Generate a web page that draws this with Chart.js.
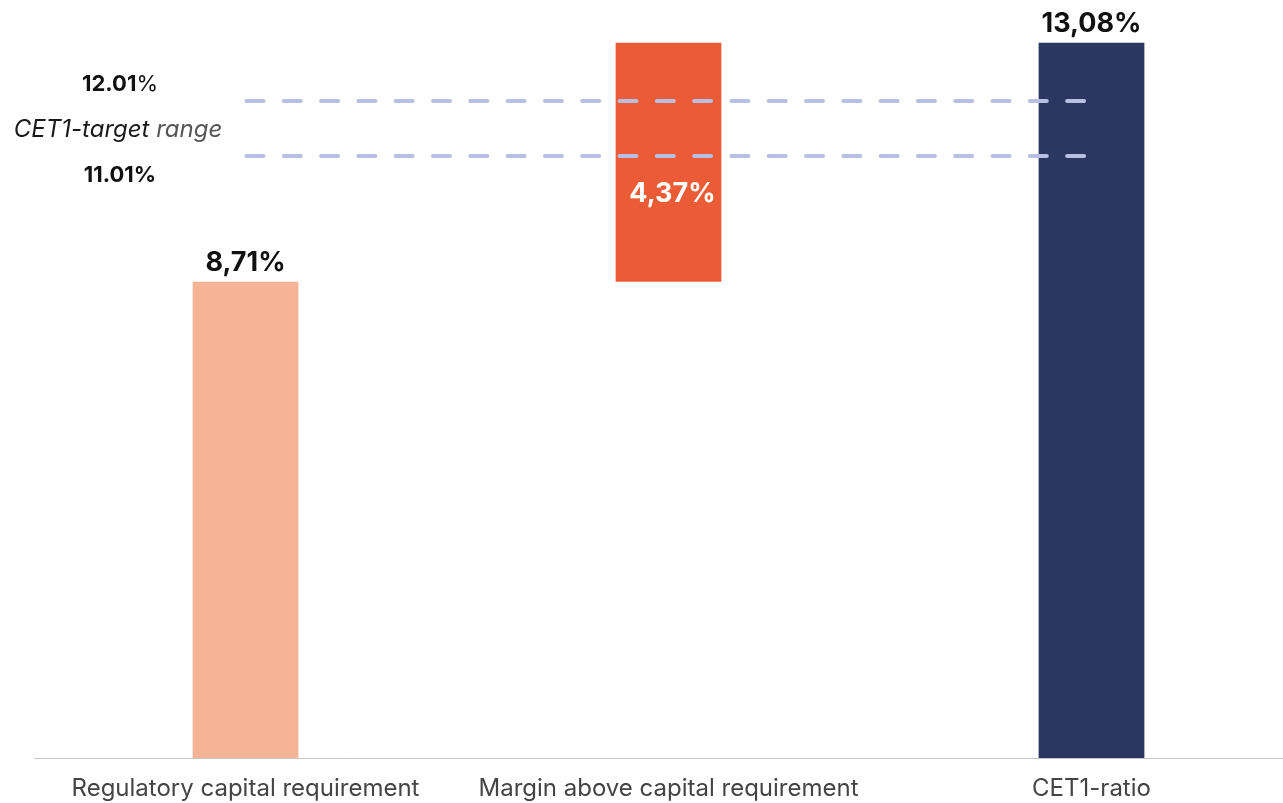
<!DOCTYPE html>
<html>
<head>
<meta charset="utf-8">
<script src="https://cdn.jsdelivr.net/npm/chart.js@4.4.1/dist/chart.umd.min.js"></script>
<style>
  html, body { margin: 0; padding: 0; background: #fff; overflow: hidden; }
  canvas { display: block; }
</style>
</head>
<body>
<canvas id="my-chart" width="1303" height="803"></canvas>
<script>
'use strict';

let categories = ['Regulatory capital requirement', 'Margin above capital requirement', 'CET1-ratio'];
let barStarts = [0, 8.71, 0];
let barEnds = [8.71, 13.08, 13.08];
let barColors = ['#f5b495', '#eb5b35', '#2b375f'];
let targetHigh = 12.01;
let targetLow = 11.01;
let targetText = 'CET1-target';
let rangeText = ' range';

let fontName = 'Inter, "Noto Sans", sans-serif';

function valueLabel(i) {
  return (barEnds[i] - barStarts[i]).toFixed(2).replace('.', ',') + '%';
}

let overlayPlugin = {
  id: 'overlay',
  afterDatasetsDraw(chart) {
    let ctx = chart.ctx;
    let xScale = chart.scales.x;
    let yScale = chart.scales.y;
    let bars = chart.getDatasetMeta(0).data;

    // dashed target lines, from first bar centre to last bar centre
    let xStart = xScale.getPixelForValue(0) + 1;
    let xEnd = xScale.getPixelForValue(categories.length - 1);
    ctx.save();
    ctx.strokeStyle = '#b7bfe2';
    ctx.lineWidth = 4;
    ctx.lineCap = 'round';
    ctx.setLineDash([17, 20.3]);
    [targetHigh, targetLow].forEach(function (v) {
      let y = Math.round(yScale.getPixelForValue(v));
      ctx.beginPath();
      ctx.moveTo(xStart, y);
      ctx.lineTo(xEnd, y);
      ctx.stroke();
    });
    ctx.restore();

    // value labels
    ctx.save();
    ctx.textAlign = 'center';
    ctx.textBaseline = 'alphabetic';
    ctx.font = 'bold 27px ' + fontName;
    for (let i = 0; i < bars.length; i++) {
      let bar = bars[i];
      if (barStarts[i] > 0) {
        ctx.fillStyle = '#ffffff';
        ctx.fillText(valueLabel(i), bar.x + 4, bar.base - 80);
      } else {
        ctx.fillStyle = '#111111';
        ctx.fillText(valueLabel(i), bar.x, bar.y - 11);
      }
    }
    ctx.restore();

    // target range text on the left
    let cx = chart.chartArea.left + 86;
    let yHigh = yScale.getPixelForValue(targetHigh);
    let yLow = yScale.getPixelForValue(targetLow);
    ctx.save();
    ctx.textBaseline = 'alphabetic';
    ctx.fillStyle = '#111111';

    let num = targetHigh.toFixed(2);
    ctx.font = 'bold 22px ' + fontName;
    let w1 = ctx.measureText(num).width;
    ctx.font = '22px ' + fontName;
    let w2 = ctx.measureText('%').width;
    let x0 = cx - (w1 + w2) / 2;
    ctx.textAlign = 'left';
    ctx.font = 'bold 22px ' + fontName;
    ctx.fillText(num, x0, yHigh - 10);
    ctx.font = '22px ' + fontName;
    ctx.fillText('%', x0 + w1, yHigh - 10);

    ctx.textAlign = 'center';
    ctx.font = 'bold 22px ' + fontName;
    ctx.fillText(targetLow.toFixed(2) + '%', cx, yLow + 26);

    ctx.font = 'italic 24px ' + fontName;
    let t1 = ctx.measureText(targetText).width;
    let t2 = ctx.measureText(rangeText).width;
    let tx = cx - 2 - (t1 + t2) / 2;
    let ty = (yHigh + yLow) / 2 + 8;
    ctx.textAlign = 'left';
    ctx.fillStyle = '#1a1a1a';
    ctx.fillText(targetText, tx, ty);
    ctx.fillStyle = '#555555';
    ctx.fillText(rangeText, tx + t1, ty);
    ctx.restore();
  }
};

let canvasElem = document.getElementById('my-chart');

let myObj = {
  type: 'bar',
  data: {
    labels: categories,
    datasets: [{
      data: barStarts.map(function (s, i) { return [s, barEnds[i]]; }),
      backgroundColor: barColors,
      borderWidth: 0,
      borderSkipped: false,
      barPercentage: 0.5,
      categoryPercentage: 0.5
    }]
  },
  options: {
    responsive: false,
    animation: false,
    devicePixelRatio: 1,
    layout: {
      padding: { left: 34, right: 0, top: 0, bottom: 0 }
    },
    plugins: {
      legend: { display: false },
      tooltip: { enabled: false }
    },
    scales: {
      x: {
        grid: { display: false },
        border: { display: true, color: '#c6c6c6', width: 1 },
        afterFit: function (scale) {
          scale.height = 45;
        },
        ticks: {
          color: '#444444',
          padding: 8,
          font: { family: fontName, size: 24 }
        }
      },
      y: {
        display: false,
        min: 0,
        max: 13.86
      }
    }
  },
  plugins: [overlayPlugin]
};

new Chart(canvasElem, myObj);
</script>
</body>
</html>
